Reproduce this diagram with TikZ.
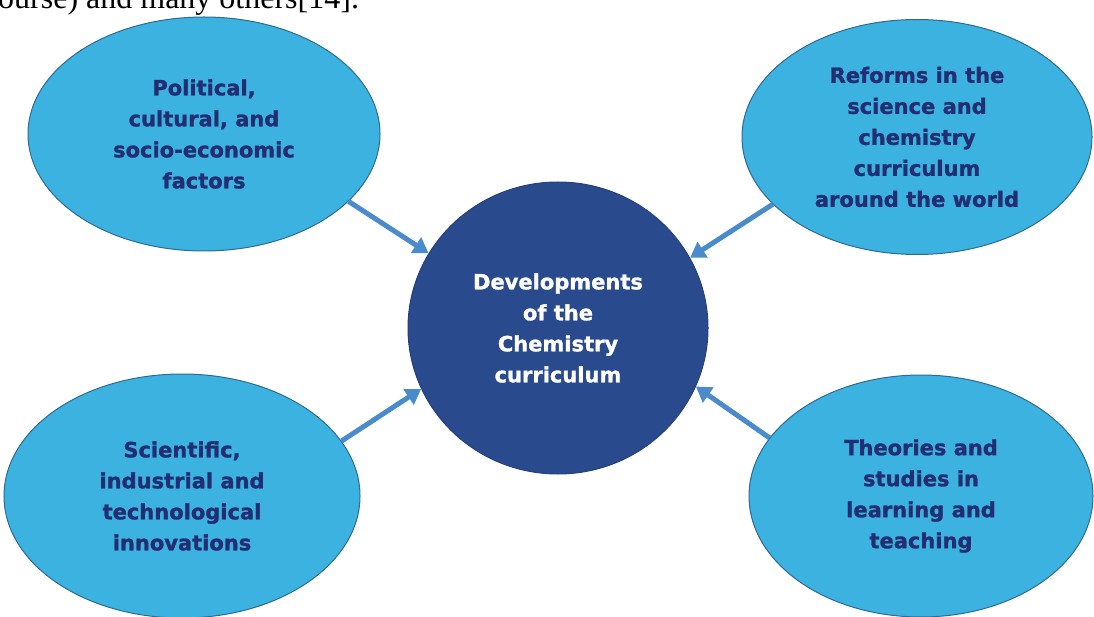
\documentclass[tikz,border=0pt]{standalone}
\usepackage{fontspec}
\setmainfont{DejaVu Sans}
\newfontfamily\heavyfont{DejaVu Sans Bold}[FakeBold=1.3]
\newfontfamily\timesfont{Liberation Serif}
\usetikzlibrary{shapes.geometric,arrows.meta}
\definecolor{ellfill}{HTML}{3CB2E0}
\definecolor{elldraw}{HTML}{2D6A95}
\definecolor{cfill}{HTML}{2A4A8E}
\definecolor{cdraw}{HTML}{25407C}
\definecolor{navy}{HTML}{222D72}
\definecolor{arrowblue}{HTML}{4A8CCB}
\tikzset{
  outer/.style={ellipse, fill=ellfill, draw=elldraw, line width=1pt, inner sep=0pt,
    align=center, text=navy, font=\heavyfont\fontsize{21}{31}\selectfont},
  core/.style={ellipse, fill=cfill, draw=cdraw, line width=1pt, inner sep=0pt,
    align=center, text=white, font=\heavyfont\fontsize{21}{31}\selectfont},
  arr/.style={draw=arrowblue, line width=5pt, -{Triangle[length=15pt,width=18pt]}}
}
\begin{document}
\begin{tikzpicture}[x=1pt,y=-1pt]
\useasboundingbox (0,0) rectangle (1094,617);
\clip (0,0) rectangle (1094,617);
\node[anchor=base west, inner sep=0pt, font=\timesfont\fontsize{32}{32}\selectfont] (cap) at (-2,8.5) {ourse) and many others[14].};
\node[outer, minimum width=352pt, minimum height=234pt] (tl) at (204,134)
  {Political,\\cultural, and\\socio-economic\\factors};
\node[outer, minimum width=350pt, minimum height=235pt] (tr) at (917,137)
  {Reforms in the\\science and\\chemistry\\curriculum\\around the world};
\node[outer, minimum width=356pt, minimum height=244pt] (bl) at (182,496)
  {Scientific,\\industrial and\\technological\\innovations};
\node[outer, minimum width=344pt, minimum height=242pt] (br) at (921,496)
  {Theories and\\studies in\\learning and\\teaching};
\node[core, minimum width=300pt, minimum height=292pt] (c) at (558,328)
  {Developments\\of the\\Chemistry\\curriculum};
\draw[arr] (tl.-25) -- (c.150);
\draw[arr] (tr.-155) -- (c.28);
\draw[arr] (bl.19.5) -- (c.204);
\draw[arr] (br.159.3) -- (c.-23.5);
\end{tikzpicture}
\end{document}
